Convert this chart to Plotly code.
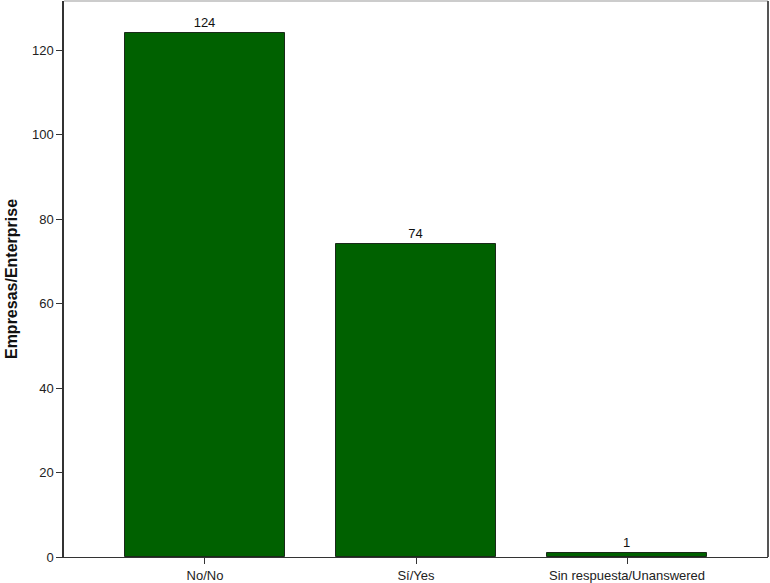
import plotly.graph_objects as go

categories = ["No/No", "Sí/Yes", "Sin respuesta/Unanswered"]
values = [124, 74, 1]
y_ticks = [0, 20, 40, 60, 80, 100, 120]

fig = go.Figure()
fig.add_trace(go.Bar(
    x=categories, y=values,
    width=0.758,
    marker=dict(color="#006100", line=dict(color="#1a2a1a", width=1)),
    text=[str(v) for v in values], textposition="outside",
    textfont=dict(family="Arial", size=13, color="#111"),
    cliponaxis=False,
))

fig.update_layout(
    width=770, height=583,
    margin=dict(l=64, r=2, t=1, b=26),
    paper_bgcolor="white", plot_bgcolor="white",
    showlegend=False,
    font=dict(family="Arial", size=13, color="#222"),
    bargap=0,
)
fig.update_xaxes(
    range=[-0.668, 2.668], showgrid=False,
    showline=True, linecolor="#333", linewidth=1,
    ticks="outside", ticklen=6, tickcolor="#333",
    tickfont=dict(family="Arial", size=13, color="#222"),
    mirror=False,
)
fig.update_yaxes(
    range=[0, 131.6], showgrid=False, zeroline=False,
    tickvals=y_ticks,
    showline=True, linecolor="#333", linewidth=1.5,
    ticks="outside", ticklen=6, tickcolor="#333",
    tickfont=dict(family="Arial", size=13, color="#222"),
    title=dict(text="<b>Empresas/Enterprise</b>", font=dict(family="Arial", size=16, color="#111"), standoff=10),
)
fig.add_shape(type="line", xref="paper", yref="paper", x0=0, x1=1, y0=1, y1=1,
              line=dict(color="#999", width=1))
fig.add_shape(type="line", xref="paper", yref="paper", x0=1, x1=1, y0=0, y1=1,
              line=dict(color="#555", width=2))

fig.write_html("out.html", config={"displayModeBar": False},
               post_script="document.body.style.margin='0';document.body.style.overflow='hidden';")
